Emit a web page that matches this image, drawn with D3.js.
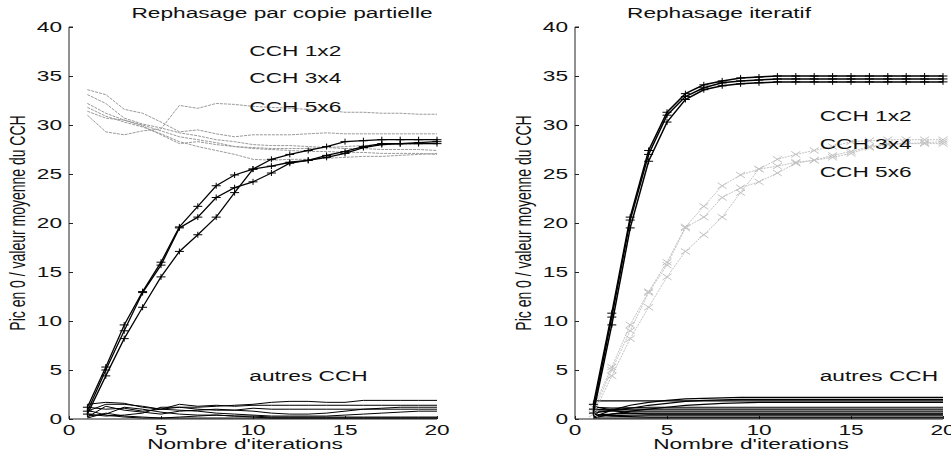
<!DOCTYPE html>
<html>
<head>
<meta charset="UTF-8">
<title>Rephasage</title>
<script src="https://cdn.jsdelivr.net/npm/d3@7"></script>
<style>
  body { margin: 0; background: #fff; }
  text { font-family: "Liberation Sans", Arial, sans-serif; font-size: 14px; fill: #111; }
</style>
</head>
<body>
<script>
// iterations 1..20
const iterations = d3.range(1, 21);
const xTicks = [0, 5, 10, 15, 20];
const yTicks = [0, 5, 10, 15, 20, 25, 30, 35, 40];

// Rephasage par copie partielle : CCH 1x2, 3x4, 5x6
const partialMain = [
  [1.2, 5.3, 9.6, 13.0, 16.0, 19.6, 21.7, 23.8, 24.9, 25.5, 26.5, 27.0, 27.4, 27.8, 28.3, 28.4, 28.5, 28.5, 28.5, 28.5],
  [0.8, 5.0, 9.0, 12.9, 15.7, 19.5, 20.6, 22.6, 23.6, 24.2, 25.1, 26.1, 26.4, 26.7, 27.1, 27.7, 28.0, 28.1, 28.1, 28.1],
  [0.5, 4.4, 8.2, 11.4, 14.5, 17.1, 18.8, 20.6, 23.1, 25.5, 25.8, 26.2, 26.4, 26.9, 27.3, 27.8, 28.1, 28.1, 28.2, 28.3]
];
// gray curves (left panel)
const partialGray = [
  [31.0, 29.3, 29.0, 29.4, 29.6, 32.0, 31.7, 32.2, 32.1, 31.9, 31.8, 31.7, 31.6, 31.5, 31.3, 31.3, 31.2, 31.2, 31.1, 31.1],
  [33.6, 33.1, 31.6, 31.2, 30.3, 29.3, 29.5, 29.1, 28.8, 29.0, 29.0, 29.0, 29.1, 29.2, 29.1, 29.1, 29.1, 29.1, 29.1, 29.1],
  [33.1, 32.2, 30.7, 30.1, 29.7, 29.2, 28.9, 28.5, 28.3, 28.0, 27.9, 27.9, 27.8, 27.7, 27.6, 27.6, 27.5, 27.5, 27.5, 27.4],
  [32.2, 31.2, 30.5, 30.0, 29.4, 28.8, 28.5, 28.2, 27.8, 27.6, 27.5, 27.4, 27.3, 27.3, 27.2, 27.2, 27.1, 27.1, 27.1, 27.0],
  [31.8, 30.9, 30.3, 29.8, 29.1, 28.3, 27.8, 27.4, 27.0, 26.5, 26.4, 26.5, 26.5, 26.6, 26.7, 26.8, 26.8, 26.9, 27.0, 27.1],
  [31.4, 30.7, 30.5, 29.9, 29.0, 28.1, 28.3, 28.0, 27.8, 27.7, 27.6, 27.6, 27.6, 27.7, 27.8, 27.9, 28.0, 28.0, 28.1, 28.1]
];
// autres CCH (left panel)
const partialOthers = [
  [1.5, 1.7, 1.6, 1.2, 1.0, 1.2, 1.2, 1.3, 1.4, 1.5, 1.7, 1.8, 1.8, 1.7, 1.7, 1.9, 1.9, 1.9, 1.9, 1.9],
  [0.8, 1.5, 1.5, 1.3, 1.0, 1.5, 1.3, 1.4, 1.3, 1.4, 1.4, 1.4, 1.4, 1.4, 1.4, 1.4, 1.4, 1.4, 1.4, 1.4],
  [0.2, 1.3, 0.9, 0.7, 0.5, 0.8, 0.9, 1.0, 0.9, 0.8, 0.6, 0.5, 0.5, 0.6, 0.8, 1.0, 1.1, 1.2, 1.2, 1.2],
  [1.2, 1.0, 1.1, 0.8, 1.0, 0.9, 0.8, 0.6, 0.5, 0.4, 0.3, 0.3, 0.3, 0.3, 0.4, 0.5, 0.6, 0.7, 0.8, 0.8],
  [0.3, 0.5, 1.2, 1.0, 0.7, 0.5, 0.4, 0.4, 0.3, 0.3, 0.2, 0.2, 0.2, 0.2, 0.2, 0.2, 0.2, 0.2, 0.2, 0.2],
  [0.5, 0.3, 0.4, 0.6, 1.2, 1.2, 1.0, 0.9, 0.9, 1.1, 1.0, 1.0, 1.0, 1.0, 1.0, 1.0, 1.0, 1.0, 1.0, 1.0],
  [0.1, 0.6, 0.3, 0.2, 0.1, 0.1, 0.1, 0.1, 0.1, 0.1, 0.1, 0.1, 0.1, 0.1, 0.1, 0.1, 0.1, 0.1, 0.1, 0.1],
  [0.9, 0.4, 0.2, 0.1, 0.1, 0.2, 0.3, 0.4, 0.3, 0.2, 0.1, 0.1, 0.1, 0.1, 0.1, 0.1, 0.1, 0.1, 0.1, 0.1]
];

// Rephasage iteratif : CCH 1x2, 3x4, 5x6
const iterMain = [
  [1.5, 10.8, 20.6, 27.4, 31.3, 33.2, 34.1, 34.5, 34.8, 34.9, 35.0, 35.0, 35.0, 35.0, 35.0, 35.0, 35.0, 35.0, 35.0, 35.0],
  [1.0, 10.4, 20.3, 27.0, 31.0, 32.9, 33.8, 34.3, 34.5, 34.6, 34.7, 34.7, 34.7, 34.7, 34.7, 34.7, 34.7, 34.7, 34.7, 34.7],
  [0.6, 9.6, 19.5, 26.3, 30.3, 32.6, 33.6, 34.0, 34.2, 34.3, 34.4, 34.4, 34.4, 34.4, 34.4, 34.4, 34.4, 34.4, 34.4, 34.4]
];
// autres CCH (right panel)
const iterOthers = [
  [1.85, 1.85, 1.85, 1.85, 1.85, 1.85, 1.85, 1.85, 1.85, 1.85, 1.85, 1.85, 1.85, 1.85, 1.85, 1.85, 1.85, 1.85, 1.85, 1.85],
  [0.2, 0.9, 1.4, 1.7, 1.9, 2.05, 2.1, 2.15, 2.2, 2.2, 2.2, 2.2, 2.2, 2.2, 2.2, 2.2, 2.2, 2.2, 2.2, 2.2],
  [0.1, 0.5, 0.8, 1.0, 1.2, 1.4, 1.5, 1.6, 1.65, 1.7, 1.7, 1.7, 1.7, 1.7, 1.7, 1.7, 1.7, 1.7, 1.7, 1.7],
  [1.0, 0.9, 1.1, 1.4, 1.6, 1.8, 1.9, 1.95, 2.0, 2.0, 2.0, 2.0, 2.0, 2.0, 2.0, 2.0, 2.0, 2.0, 2.0, 2.0],
  [1.2, 1.1, 1.15, 1.2, 1.2, 1.2, 1.2, 1.2, 1.2, 1.2, 1.2, 1.2, 1.2, 1.2, 1.2, 1.2, 1.2, 1.2, 1.2, 1.2],
  [0.6, 0.9, 1.0, 1.0, 1.0, 1.0, 1.0, 1.0, 1.0, 1.0, 1.0, 1.0, 1.0, 1.0, 1.0, 1.0, 1.0, 1.0, 1.0, 1.0],
  [0.8, 0.8, 0.8, 0.8, 0.8, 0.8, 0.8, 0.8, 0.8, 0.8, 0.8, 0.8, 0.8, 0.8, 0.8, 0.8, 0.8, 0.8, 0.8, 0.8],
  [0.4, 0.5, 0.6, 0.6, 0.6, 0.6, 0.6, 0.6, 0.6, 0.6, 0.6, 0.6, 0.6, 0.6, 0.6, 0.6, 0.6, 0.6, 0.6, 0.6],
  [1.3, 0.9, 0.6, 0.5, 0.5, 0.5, 0.5, 0.5, 0.5, 0.5, 0.5, 0.5, 0.5, 0.5, 0.5, 0.5, 0.5, 0.5, 0.5, 0.5],
  [0.3, 0.35, 0.4, 0.4, 0.4, 0.4, 0.4, 0.4, 0.4, 0.4, 0.4, 0.4, 0.4, 0.4, 0.4, 0.4, 0.4, 0.4, 0.4, 0.4],
  [0.5, 0.3, 0.25, 0.2, 0.2, 0.2, 0.2, 0.2, 0.2, 0.2, 0.2, 0.2, 0.2, 0.2, 0.2, 0.2, 0.2, 0.2, 0.2, 0.2],
  [0.1, 0.1, 0.1, 0.1, 0.1, 0.1, 0.1, 0.1, 0.1, 0.1, 0.1, 0.1, 0.1, 0.1, 0.1, 0.1, 0.1, 0.1, 0.1, 0.1]
];

const titles = ["Rephasage par copie partielle", "Rephasage iteratif"];
const xLabel = "Nombre d'iterations";
const yLabel = "Pic en 0 / valeur moyenne du CCH";
// label text and anchor in data coordinates
const partialNotes = [
  { text: "CCH 1x2", x: 9.8, y: 37.0 },
  { text: "CCH 3x4", x: 9.8, y: 34.3 },
  { text: "CCH 5x6", x: 9.8, y: 31.3 },
  { text: "autres CCH", x: 9.8, y: 3.9 }
];
const iterNotes = [
  { text: "CCH 1x2", x: 13.3, y: 30.4 },
  { text: "CCH 3x4", x: 13.3, y: 27.6 },
  { text: "CCH 5x6", x: 13.3, y: 24.7 },
  { text: "autres CCH", x: 13.3, y: 3.9 }
];

const width = 951, height = 456;
const stretch = 1.62; // the original picture is stretched horizontally

const svg = d3.select("body").append("svg")
  .attr("width", width)
  .attr("height", height);

function label(g, txt, x, y, anchor) {
  return g.append("text")
    .attr("transform", `translate(${x},${y}) scale(${stretch},1)`)
    .attr("text-anchor", anchor || "start")
    .text(txt);
}

function drawPanel(left, cfg) {
  const x = d3.scaleLinear().domain([0, 20]).range([left, left + 368]);
  const y = d3.scaleLinear().domain([0, 40]).range([419, 27]);
  const g = svg.append("g");
  const line = d3.line().x((d, i) => x(iterations[i])).y(d => y(d));

  // axes
  g.append("g")
    .attr("transform", `translate(${left},0)`)
    .call(d3.axisRight(y).tickValues(yTicks).tickSize(4).tickFormat(""))
    .call(a => a.select(".domain").attr("stroke", "#222").attr("d", `M4,${y(40)}H0V${y(0)}`))
    .call(a => a.selectAll("line").attr("stroke", "#222"));
  g.append("g")
    .attr("transform", `translate(0,${y(0)})`)
    .call(d3.axisTop(x).tickValues(xTicks).tickSize(3).tickFormat(""))
    .call(a => a.select(".domain").attr("stroke", "#222").attr("d", `M${x(0)},0H${x(20)}`))
    .call(a => a.selectAll("line").attr("stroke", "#222"));

  yTicks.forEach(t => label(g, t, left - 7, y(t) + 5, "end"));
  xTicks.forEach(t => label(g, t, x(t), 435, "middle"));

  label(g, cfg.title, cfg.titleX, 18, "middle");
  label(g, xLabel, x(10) - 8, 449, "middle");
  g.append("text")
    .attr("transform", `translate(${left - 44},223) rotate(-90) scale(1,${stretch})`)
    .attr("text-anchor", "middle")
    .text(yLabel);

  // series
  cfg.series.forEach(s => {
    s.data.forEach(vals => {
      g.append("path")
        .datum(vals)
        .attr("fill", "none")
        .attr("stroke", s.color)
        .attr("stroke-width", s.width)
        .attr("stroke-dasharray", s.dash || null)
        .attr("d", line);
      if (s.marker) {
        const m = s.marker === "+"
          ? (cx, cy) => `M${cx - 4.5},${cy}H${cx + 4.5}M${cx},${cy - 3}V${cy + 3}`
          : (cx, cy) => `M${cx - 4.5},${cy - 3}L${cx + 4.5},${cy + 3}M${cx - 4.5},${cy + 3}L${cx + 4.5},${cy - 3}`;
        g.append("path")
          .attr("fill", "none")
          .attr("stroke", s.color)
          .attr("stroke-width", 1)
          .attr("d", vals.map((v, i) => m(x(iterations[i]), y(v))).join(""));
      }
    });
  });

  cfg.notes.forEach(n => label(g, n.text, x(n.x), y(n.y), "start"));
}

drawPanel(69, {
  title: titles[0],
  titleX: 282,
  notes: partialNotes,
  series: [
    { data: partialGray, color: "#9a9a9a", width: 1, dash: "3,1" },
    { data: partialOthers, color: "#000", width: 1 },
    { data: partialMain, color: "#000", width: 1.3, marker: "+" }
  ]
});

drawPanel(575, {
  title: titles[1],
  titleX: 719,
  notes: iterNotes,
  series: [
    { data: iterOthers, color: "#000", width: 1.2 },
    { data: partialMain, color: "#c2c2c2", width: 1, dash: "2,1", marker: "x" },
    { data: iterMain, color: "#000", width: 1.5, marker: "+" }
  ]
});
</script>
</body>
</html>
